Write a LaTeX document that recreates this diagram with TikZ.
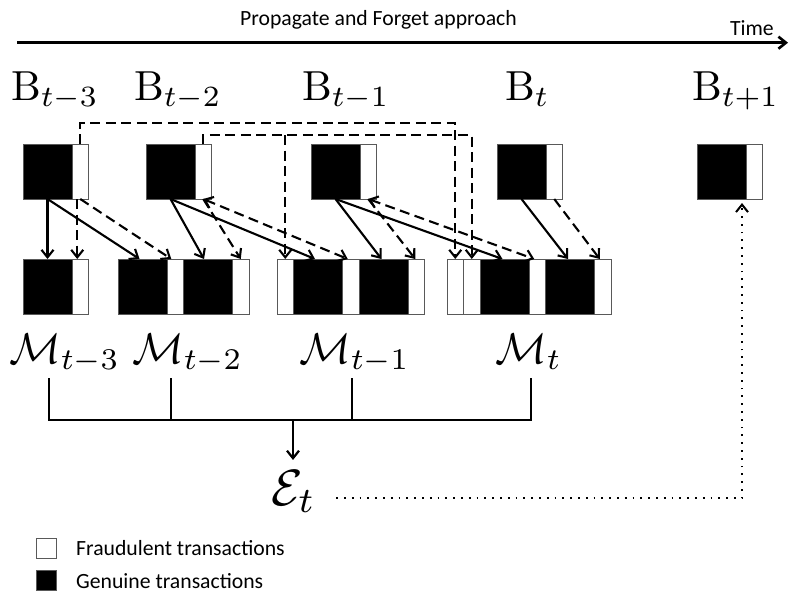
\documentclass[tikz,border=0pt]{standalone}
\usepackage{fontspec}
\usepackage{graphicx}
\newfontfamily\calfont{Carlito}
\usetikzlibrary{arrows.meta}

\begin{document}
\begin{tikzpicture}[x=1pt,y=-1pt,
  >={Straight Barb[length=7.5pt,width=12pt]},
  cellk/.style={rectangle, draw=black!65, line width=0.8pt, fill=black,
    inner sep=0pt, outer sep=0pt, minimum width=49pt, minimum height=55pt,
    anchor=north west},
  cellw/.style={cellk, fill=white, minimum width=16.5pt},
  solidarrow/.style={line width=2.1pt, ->},
  dasharrow/.style={line width=2.1pt, ->, dash pattern=on 10pt off 5.5pt},
  dashboth/.style={line width=2.1pt, <->, dash pattern=on 10pt off 5.5pt},
  dotarrow/.style={line width=2pt, ->, dash pattern=on 1.8pt off 6pt},
  brk/.style={line width=2.2pt},
  mlabel/.style={inner sep=0pt, anchor=base west},
  sans/.style={font=\calfont\fontsize{21.7}{26}\selectfont, inner sep=0pt},
  legbox/.style={rectangle, draw=black!65, line width=0.8pt, inner sep=0pt,
    minimum width=20pt, minimum height=20pt}
]
\useasboundingbox (0,0) rectangle (790,597);

% time axis
\node[sans, anchor=base west] (title) at (240,25) {Propagate and Forget approach};
\coordinate (t0) at (17,42.7);
\coordinate (t1) at (788,42.7);
\draw[line width=2.6pt, ->] (t0) -- (t1);
\node[sans, anchor=base east] (time) at (774,35) {Time};

% batch labels
\node[mlabel] (lb3) at (11,100)  {\scalebox{4.2}{$\mathrm{B}_{t-3}$}};
\node[mlabel] (lb2) at (134,100) {\scalebox{4.2}{$\mathrm{B}_{t-2}$}};
\node[mlabel] (lb1) at (302,100) {\scalebox{4.2}{$\mathrm{B}_{t-1}$}};
\node[mlabel] (lb0) at (505,100) {\scalebox{4.2}{$\mathrm{B}_{t}$}};
\node[mlabel] (lbp) at (692,100) {\scalebox{4.2}{$\mathrm{B}_{t+1}$}};

% batches
\node[cellk] (b3k) at (23,144) {};  \node[cellw] (b3w) at (72,144) {};
\node[cellk] (b2k) at (146,144) {}; \node[cellw] (b2w) at (195,144) {};
\node[cellk] (b1k) at (311,144) {}; \node[cellw] (b1w) at (360,144) {};
\node[cellk] (b0k) at (497,144) {}; \node[cellw] (b0w) at (546,144) {};
\node[cellk] (bpk) at (697,144) {}; \node[cellw] (bpw) at (746,144) {};

% models' training sets
\node[cellk] (m3k)  at (23,259) {};    \node[cellw] (m3w)  at (72,259) {};
\node[cellk] (m2k1) at (118,259) {};   \node[cellw] (m2w1) at (167,259) {};
\node[cellk] (m2k2) at (183.5,259) {}; \node[cellw] (m2w2) at (232.5,259) {};
\node[cellw] (m1w0) at (277,259) {};
\node[cellk] (m1k1) at (293.5,259) {}; \node[cellw] (m1w1) at (342.5,259) {};
\node[cellk] (m1k2) at (359,259) {};   \node[cellw] (m1w2) at (408,259) {};
\node[cellw] (m0wa) at (447,259) {};   \node[cellw] (m0wb) at (463.5,259) {};
\node[cellk] (m0k1) at (480,259) {};   \node[cellw] (m0w1) at (529,259) {};
\node[cellk] (m0k2) at (545.5,259) {}; \node[cellw] (m0w2) at (594.5,259) {};

% genuine transactions
\draw[solidarrow] (b3k.south) -- (m3k.north);
\draw[solidarrow] (b3k.south) -- ([xshift=-3pt]m2k1.north);
\draw[solidarrow] (b2k.south) -- ([xshift=-4pt]m2k2.north);
\draw[solidarrow] (b2k.south) -- ([xshift=-3pt]m1k1.north);
\draw[solidarrow] (b1k.south) -- ([xshift=-2pt]m1k2.north);
\draw[solidarrow] (b1k.south) -- ([xshift=-2pt]m0k1.north);
\draw[solidarrow] (b0k.south) -- ([xshift=-2pt]m0k2.north);

% fraudulent transactions
\draw[dasharrow] ([xshift=-3pt]b3w.south) -- ([xshift=-3pt]m3w.north);
\draw[dasharrow] (b3w.south) -- ([xshift=-4pt]m2w1.north);
\draw[dasharrow] (b2w.south) -- (m2w2.north);
\draw[dashboth]  (b2w.south) -- ([xshift=-3pt]m1w1.north);
\draw[dasharrow] (b1w.south) -- ([xshift=-1pt]m1w2.north);
\draw[dashboth]  (b1w.south) -- ([xshift=-3pt]m0w1.north);
\draw[dasharrow] (b0w.south) -- ([xshift=-3pt]m0w2.north);

% fraudulent transactions propagated further
\coordinate (r1) at (0,123);
\coordinate (r2) at (0,135);
\draw[dasharrow] (b3w.north) -- (b3w.north |- r1) -| (m0wa.north);
\draw[dasharrow] (b2w.north) -- (b2w.north |- r2) -| (m0wb.north);
\draw[dasharrow] (m1w0.north |- r2) -- (m1w0.north);

% model labels
\node[mlabel] (lm3) at (9,363)   {\scalebox{4.3}{$\mathcal{M}_{t-3}$}};
\node[mlabel] (lm2) at (132,363) {\scalebox{4.3}{$\mathcal{M}_{t-2}$}};
\node[mlabel] (lm1) at (299,363) {\scalebox{4.3}{$\mathcal{M}_{t-1}$}};
\node[mlabel] (lm0) at (495,363) {\scalebox{4.3}{$\mathcal{M}_{t}$}};

% ensemble
\node[mlabel] (E) at (271,505) {\scalebox{5.1}{$\mathcal{E}_{t}$}};
\coordinate (k3) at (49,378);
\coordinate (k2) at (171,378);
\coordinate (k1) at (352,378);
\coordinate (k0) at (531,378);
\coordinate (hub) at (293,420);
\draw[brk] (k3) -- (k3 |- hub) -- (k0 |- hub) -- (k0);
\draw[brk] (k2) -- (k2 |- hub);
\draw[brk] (k1) -- (k1 |- hub);
\draw[brk, ->] (hub) -- ([yshift=10pt]hub |- E.north);
\draw[dotarrow] ([xshift=20pt,yshift=-7pt]E.east) -| ([xshift=-4pt,yshift=-4pt]bpk.south east);

% legend
\node[legbox, fill=white] (lw) at (46,548) {};
\node[legbox, fill=black] (lk) at (46,580) {};
\node[sans, anchor=base west] (lwt) at (76,555) {Fraudulent transactions};
\node[sans, anchor=base west] (lkt) at (76,588) {Genuine transactions};
\end{tikzpicture}
\end{document}
